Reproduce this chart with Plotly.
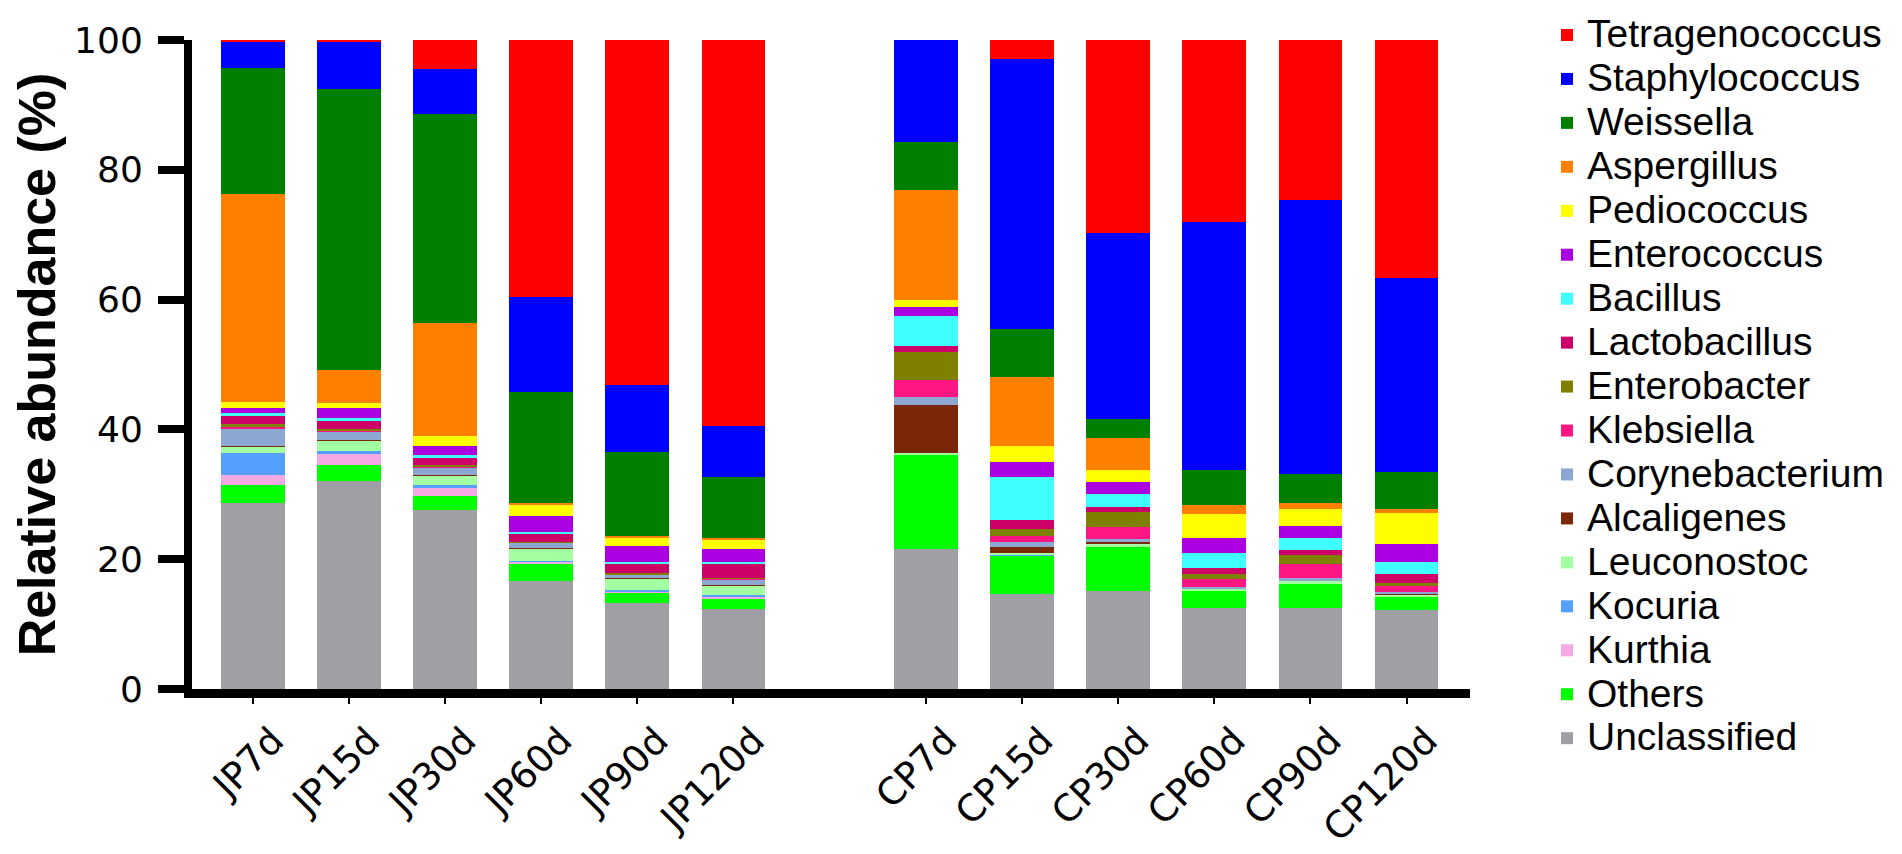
import plotly.graph_objects as go

# ---- data ----
samples_jp = ["JP7d", "JP15d", "JP30d", "JP60d", "JP90d", "JP120d"]
samples_cp = ["CP7d", "CP15d", "CP30d", "CP60d", "CP90d", "CP120d"]
spacer = [" "]
samples = samples_jp + samples_cp

# genus values per sample, listed from the bottom of each stack to the top
unclassified    = [28.6, 32.0, 27.6, 16.7, 13.3, 12.3, 21.6, 14.7, 15.1, 12.5, 12.5, 12.2]
others          = [2.8, 2.5, 2.2, 2.5, 1.5, 1.7, 14.5, 5.8, 6.9, 2.7, 3.7, 1.9]
kurthia         = [1.6, 1.8, 1.2, 0.4, 0.2, 0.3, 0.0, 0.0, 0.0, 0.0, 0.0, 0.0]
kocuria         = [3.4, 0.3, 0.4, 0.2, 0.2, 0.2, 0.0, 0.1, 0.0, 0.0, 0.0, 0.0]
leuconostoc     = [1.0, 1.7, 1.5, 1.8, 1.8, 1.4, 0.2, 0.4, 0.3, 0.3, 0.4, 0.4]
alcaligenes     = [0.1, 0.1, 0.1, 0.1, 0.1, 0.1, 7.5, 0.9, 0.4, 0.0, 0.0, 0.2]
corynebacterium = [2.6, 1.2, 1.1, 0.8, 0.5, 0.9, 1.2, 0.7, 0.4, 0.2, 0.5, 0.2]
klebsiella      = [0.3, 0.2, 0.2, 0.1, 0.1, 0.1, 2.6, 0.9, 1.9, 1.2, 2.1, 1.0]
enterobacter    = [0.4, 0.2, 0.2, 0.1, 0.1, 0.1, 4.3, 1.2, 2.2, 0.8, 1.4, 0.5]
lactobacillus   = [1.2, 1.3, 1.2, 1.3, 1.6, 2.2, 0.9, 1.3, 0.9, 1.0, 0.8, 1.3]
bacillus        = [0.6, 0.4, 0.3, 0.2, 0.2, 0.2, 4.7, 6.6, 2.0, 2.2, 1.8, 1.9]
enterococcus    = [0.7, 1.6, 1.5, 2.4, 2.4, 2.1, 1.4, 2.4, 1.8, 2.3, 1.9, 2.8]
pediococcus     = [0.9, 0.8, 1.5, 1.9, 1.4, 1.5, 1.0, 2.5, 1.8, 3.7, 2.6, 4.7]
aspergillus     = [32.0, 5.0, 17.4, 0.1, 0.1, 0.1, 17.0, 10.6, 4.9, 1.5, 1.0, 0.6]
weissella       = [19.5, 43.3, 32.2, 17.1, 13.0, 9.4, 7.4, 7.4, 3.0, 5.4, 4.5, 5.8]
staphylococcus  = [4.1, 7.3, 7.0, 14.7, 10.4, 8.0, 15.7, 41.6, 28.6, 38.2, 42.2, 29.8]
tetragenococcus = [0.2, 0.3, 4.4, 39.6, 53.1, 59.4, 0.0, 2.9, 29.8, 28.0, 24.6, 36.7]

genus_names = ["Unclassified", "Others", "Kurthia", "Kocuria", "Leuconostoc",
               "Alcaligenes", "Corynebacterium", "Klebsiella", "Enterobacter",
               "Lactobacillus", "Bacillus", "Enterococcus", "Pediococcus",
               "Aspergillus", "Weissella", "Staphylococcus", "Tetragenococcus"]
genus_values = [unclassified, others, kurthia, kocuria, leuconostoc,
                alcaligenes, corynebacterium, klebsiella, enterobacter,
                lactobacillus, bacillus, enterococcus, pediococcus,
                aspergillus, weissella, staphylococcus, tetragenococcus]
genus_colors = ["#A0A0A4", "#00FF00", "#F4A9E4", "#55A0FF", "#A2FFA2",
                "#7B2808", "#8CA8D2", "#FF1682", "#808000",
                "#CC0066", "#40FFFF", "#AA00E2", "#FFFF00",
                "#FF8000", "#007F00", "#0000FF", "#FF0000"]

y_ticks = [0, 20, 40, 60, 80, 100]

fig = go.Figure()
for name, vals, color in zip(genus_names, genus_values, genus_colors):
    fig.add_trace(go.Bar(
        x=samples, y=vals,
        name="<span style='font-size:39px'>" + name + "</span>",
        marker=dict(color=color, line=dict(width=0)),
    ))

TICKFONT = dict(family="DejaVu Sans", size=37, color="black")

fig.update_layout(
    width=1902, height=854,
    barmode="stack", bargap=0.338,
    plot_bgcolor="white", paper_bgcolor="white",
    margin=dict(l=177, r=440, t=27, b=151),
    legend=dict(
        traceorder="reversed",
        xref="container", yref="container",
        x=1539 / 1902, y=1.0, xanchor="left", yanchor="top",
        font=dict(family="Liberation Sans", size=31.5, color="black"),
        bgcolor="rgba(0,0,0,0)",
        maxheight=850,
    ),
    xaxis=dict(
        type="category",
        categoryorder="array",
        categoryarray=samples_jp + spacer + samples_cp,
        tickvals=samples, ticktext=samples,
        range=[-0.631, 12.66],
        tickangle=-45,
        tickfont=TICKFONT,
        ticklabelshift=20,
        showline=True, linecolor="black", linewidth=9,
        ticks="outside", ticklen=6, tickwidth=2, tickcolor="black",
        showgrid=False, zeroline=False,
    ),
    yaxis=dict(
        range=[0, 100],
        tickvals=y_ticks,
        tickfont=dict(family="DejaVu Sans", size=36, color="black"),
        ticklabelstandoff=8,
        showline=True, linecolor="black", linewidth=8,
        ticks="outside", ticklen=26, tickwidth=8, tickcolor="black",
        showgrid=False, zeroline=False,
        title=dict(text="<b>Relative abundance (%)</b>",
                   font=dict(family="Liberation Sans", size=52, color="black"),
                   standoff=18),
    ),
)

fig.write_html("out.html")
